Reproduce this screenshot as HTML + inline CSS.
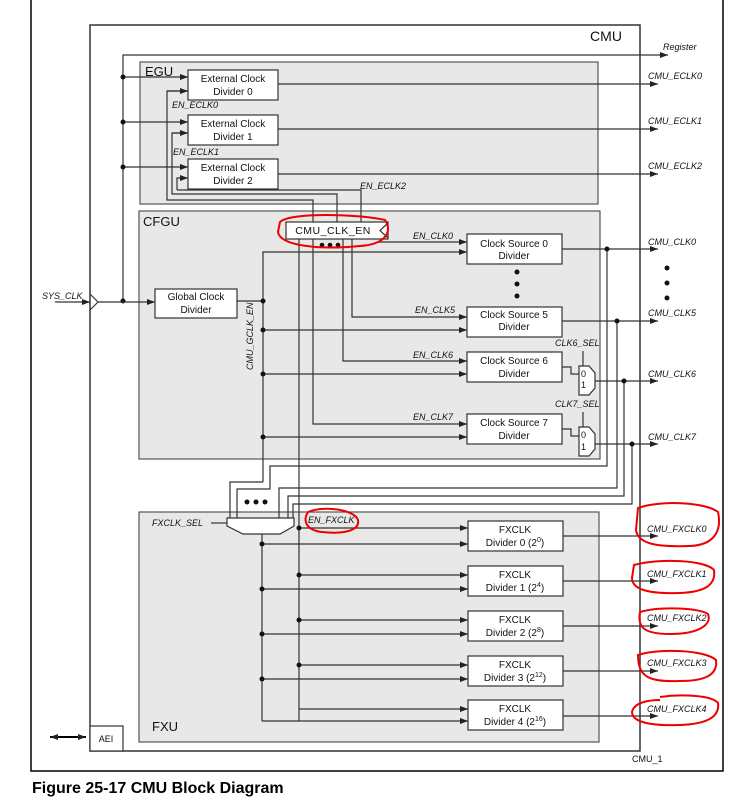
<!DOCTYPE html>
<html><head><meta charset="utf-8"><style>
html,body{margin:0;padding:0;background:#fff;}
svg{display:block;font-family:"Liberation Sans",sans-serif;}
.b{fill:#fff;stroke:#333;stroke-width:1.2}
.g{fill:#e8e8e8;stroke:#555;stroke-width:1.2}
.l{fill:none;stroke:#333;stroke-width:1.2}
.t{font-size:10px;fill:#111;text-anchor:middle}
.i{font-size:9px;font-style:italic;fill:#111}
.r{fill:none;stroke:#e00;stroke-width:2}
</style></head><body>
<svg width="735" height="809" viewBox="0 0 735 809">
<defs><marker id="a" markerWidth="8" markerHeight="6" refX="8" refY="3" orient="auto" markerUnits="userSpaceOnUse"><path d="M0,0 L8,3 L0,6 z" fill="#222"/></marker>
<marker id="a2" markerWidth="8" markerHeight="6" refX="0" refY="3" orient="auto" markerUnits="userSpaceOnUse"><path d="M8,0 L0,3 L8,6 z" fill="#222"/></marker></defs>
<rect x="31" y="-2" width="692" height="773" fill="none" stroke="#000" stroke-width="1.5"/>
<rect x="90" y="25" width="550" height="726" fill="#fff" stroke="#333" stroke-width="1.5"/>
<text x="606" y="41" font-size="14" fill="#111" text-anchor="middle">CMU</text>
<!-- register line -->
<polyline class="l" points="123,301 123,55 668,55" marker-end="url(#a)"/>
<text x="663" y="50" class="i" font-size="8">Register</text>
<rect class="g" x="140" y="62" width="458" height="142"/>
<text x="145" y="76" font-size="13" fill="#111">EGU</text>
<rect class="g" x="139" y="211" width="461" height="248"/>
<text x="143" y="226" font-size="13" fill="#111">CFGU</text>
<rect class="g" x="139" y="512" width="460" height="230"/>
<text x="152" y="731" font-size="13" fill="#111">FXU</text>
<!-- EGU -->
<g class="l">
<line x1="123" y1="77" x2="188" y2="77" marker-end="url(#a)"/>
<line x1="123" y1="122" x2="188" y2="122" marker-end="url(#a)"/>
<line x1="123" y1="167" x2="188" y2="167" marker-end="url(#a)"/>
<polyline points="188,91 167,91 167,200 313,200 313,223" marker-start="url(#a2)" style="marker-start:none"/>
<polyline points="167,91 188,91" marker-end="url(#a)"/>
<polyline points="188,133 172,133 172,194 337,194 337,223"/>
<line x1="172" y1="133" x2="188" y2="133" marker-end="url(#a)"/>
<polyline points="177,190 177,178 188,178" marker-end="url(#a)"/>
<polyline points="177,190 361,190 361,223"/>
<line x1="278" y1="84" x2="658" y2="84" marker-end="url(#a)"/>
<line x1="278" y1="129" x2="658" y2="129" marker-end="url(#a)"/>
<line x1="278" y1="174" x2="658" y2="174" marker-end="url(#a)"/>
</g>
<g fill="#111"><circle cx="123" cy="77" r="2.5"/><circle cx="123" cy="122" r="2.5"/><circle cx="123" cy="167" r="2.5"/><circle cx="123" cy="301" r="2.5"/></g>
<rect class="b" x="188" y="70" width="90" height="30"/><text class="t" x="233" y="82">External Clock</text><text class="t" x="233" y="95">Divider 0</text>
<rect class="b" x="188" y="115" width="90" height="30"/><text class="t" x="233" y="127">External Clock</text><text class="t" x="233" y="140">Divider 1</text>
<rect class="b" x="188" y="159" width="90" height="30"/><text class="t" x="233" y="171">External Clock</text><text class="t" x="233" y="184">Divider 2</text>
<text class="i" x="172" y="108">EN_ECLK0</text>
<text class="i" x="173" y="155">EN_ECLK1</text>
<text class="i" x="360" y="189">EN_ECLK2</text>
<text class="i" x="648" y="79">CMU_ECLK0</text>
<text class="i" x="648" y="124">CMU_ECLK1</text>
<text class="i" x="648" y="169">CMU_ECLK2</text>
<!-- SYS_CLK -->
<line class="l" x1="55" y1="302" x2="90" y2="302" marker-end="url(#a)"/>
<polyline class="l" points="90,294 98,302 90,310"/>
<line class="l" x1="98" y1="302" x2="155" y2="302" marker-end="url(#a)"/>
<text class="i" x="42" y="299">SYS_CLK</text>
<!-- CFGU -->
<rect class="b" x="155" y="289" width="82" height="29"/><text class="t" x="196" y="300">Global Clock</text><text class="t" x="196" y="313">Divider</text>
<g class="l">
<line x1="237" y1="301" x2="263" y2="301"/>
<polyline points="263,482 263,252 467,252" marker-end="url(#a)"/>
<line x1="263" y1="330" x2="467" y2="330" marker-end="url(#a)"/>
<line x1="263" y1="374" x2="467" y2="374" marker-end="url(#a)"/>
<line x1="263" y1="437" x2="467" y2="437" marker-end="url(#a)"/>
<line x1="377" y1="242" x2="467" y2="242" marker-end="url(#a)"/>
<polyline points="352,239 352,317 467,317" marker-end="url(#a)"/>
<polyline points="343,239 343,361 467,361" marker-end="url(#a)"/>
<polyline points="313,239 313,424 467,424" marker-end="url(#a)"/>
<line x1="299" y1="239" x2="299" y2="721"/>
<polyline points="263,482 230,482 230,518"/>
<polyline points="562,249 658,249" marker-end="url(#a)"/>
<polyline points="562,321 658,321" marker-end="url(#a)"/>
<polyline points="595,381 658,381" marker-end="url(#a)"/>
<polyline points="595,444 658,444" marker-end="url(#a)"/>
<polyline points="562,367 571,367 571,374 579,374"/>
<polyline points="562,429 571,429 571,436 579,436"/>
<line x1="583" y1="351" x2="583" y2="366"/>
<line x1="583" y1="412" x2="583" y2="428"/>
<polyline points="607,249 607,466 270,466 270,489 237,489 237,518"/>
<polyline points="617,321 617,488 279,488 279,518"/>
<polyline points="624,381 624,496 288,496 288,518"/>
<polyline points="632,444 632,504 293,504 293,518"/>
</g>
<g fill="#111"><circle cx="263" cy="301" r="2.5"/><circle cx="263" cy="330" r="2.5"/><circle cx="263" cy="374" r="2.5"/><circle cx="263" cy="437" r="2.5"/>
<circle cx="607" cy="249" r="2.5"/><circle cx="617" cy="321" r="2.5"/><circle cx="624" cy="381" r="2.5"/><circle cx="632" cy="444" r="2.5"/>
<circle cx="322" cy="245" r="2.3"/><circle cx="330" cy="245" r="2.3"/><circle cx="338" cy="245" r="2.3"/>
<circle cx="517" cy="272" r="2.5"/><circle cx="517" cy="284" r="2.5"/><circle cx="517" cy="296" r="2.5"/>
<circle cx="667" cy="268" r="2.5"/><circle cx="667" cy="283" r="2.5"/><circle cx="667" cy="298" r="2.5"/>
<circle cx="247" cy="502" r="2.5"/><circle cx="256" cy="502" r="2.5"/><circle cx="265" cy="502" r="2.5"/></g>
<rect class="b" x="286" y="222" width="102" height="17"/>
<polyline class="l" points="388,223 380,230.5 388,238"/>
<text x="333" y="234" font-size="10.5" fill="#111" text-anchor="middle" letter-spacing="0.5">CMU_CLK_EN</text>
<text class="i" x="413" y="239">EN_CLK0</text>
<text class="i" x="415" y="313">EN_CLK5</text>
<text class="i" x="413" y="358">EN_CLK6</text>
<text class="i" x="413" y="420">EN_CLK7</text>
<text class="i" x="555" y="346">CLK6_SEL</text>
<text class="i" x="555" y="407">CLK7_SEL</text>
<text class="i" transform="translate(253,370) rotate(-90)" font-size="8">CMU_GCLK_EN</text>
<rect class="b" x="467" y="234" width="95" height="30"/><text class="t" x="514" y="247">Clock Source 0</text><text class="t" x="514" y="259">Divider</text>
<rect class="b" x="467" y="307" width="95" height="30"/><text class="t" x="514" y="318">Clock Source 5</text><text class="t" x="514" y="330">Divider</text>
<rect class="b" x="467" y="352" width="95" height="30"/><text class="t" x="514" y="364">Clock Source 6</text><text class="t" x="514" y="377">Divider</text>
<rect class="b" x="467" y="414" width="95" height="30"/><text class="t" x="514" y="426">Clock Source 7</text><text class="t" x="514" y="439">Divider</text>
<path class="b" d="M579,366 L589,366 L595,373 L595,388 L589,395 L579,395 z"/><text x="581" y="377" font-size="9" fill="#111">0</text><text x="581" y="388" font-size="9" fill="#111">1</text>
<path class="b" d="M579,427 L589,427 L595,434 L595,449 L589,456 L579,456 z"/><text x="581" y="438" font-size="9" fill="#111">0</text><text x="581" y="450" font-size="9" fill="#111">1</text>
<text class="i" x="648" y="245">CMU_CLK0</text>
<text class="i" x="648" y="316">CMU_CLK5</text>
<text class="i" x="648" y="377">CMU_CLK6</text>
<text class="i" x="648" y="440">CMU_CLK7</text>
<!-- FXU -->
<path class="b" d="M227,518 L294,518 L294,526 L280,534 L243,534 L227,526 z"/>
<line class="l" x1="211" y1="523" x2="227" y2="523"/>
<text class="i" x="152" y="526">FXCLK_SEL</text>
<line class="l" x1="262" y1="534" x2="262" y2="721"/>
<g class="l">
<line x1="299" y1="528" x2="468" y2="528" marker-end="url(#a)"/><line x1="262" y1="544" x2="468" y2="544" marker-end="url(#a)"/>
<line x1="299" y1="575" x2="468" y2="575" marker-end="url(#a)"/><line x1="262" y1="589" x2="468" y2="589" marker-end="url(#a)"/>
<line x1="299" y1="620" x2="468" y2="620" marker-end="url(#a)"/><line x1="262" y1="634" x2="468" y2="634" marker-end="url(#a)"/>
<line x1="299" y1="665" x2="468" y2="665" marker-end="url(#a)"/><line x1="262" y1="679" x2="468" y2="679" marker-end="url(#a)"/>
<line x1="299" y1="709" x2="468" y2="709" marker-end="url(#a)"/><line x1="262" y1="721" x2="468" y2="721" marker-end="url(#a)"/>
<line x1="563" y1="536" x2="658" y2="536" marker-end="url(#a)"/>
<line x1="563" y1="581" x2="658" y2="581" marker-end="url(#a)"/>
<line x1="563" y1="626" x2="658" y2="626" marker-end="url(#a)"/>
<line x1="563" y1="671" x2="658" y2="671" marker-end="url(#a)"/>
<line x1="563" y1="716" x2="658" y2="716" marker-end="url(#a)"/>
</g>
<g fill="#111"><circle cx="299" cy="528" r="2.5"/><circle cx="299" cy="575" r="2.5"/><circle cx="299" cy="620" r="2.5"/><circle cx="299" cy="665" r="2.5"/>
<circle cx="262" cy="544" r="2.5"/><circle cx="262" cy="589" r="2.5"/><circle cx="262" cy="634" r="2.5"/><circle cx="262" cy="679" r="2.5"/></g>
<text class="i" x="308" y="523">EN_FXCLK</text>
<rect class="b" x="468" y="521" width="95" height="30"/><text class="t" x="515" y="533">FXCLK</text><text class="t" x="515" y="546">Divider 0 (2<tspan font-size="7" dy="-4">0</tspan><tspan dy="4">)</tspan></text>
<rect class="b" x="468" y="566" width="95" height="30"/><text class="t" x="515" y="578">FXCLK</text><text class="t" x="515" y="591">Divider 1 (2<tspan font-size="7" dy="-4">4</tspan><tspan dy="4">)</tspan></text>
<rect class="b" x="468" y="611" width="95" height="30"/><text class="t" x="515" y="623">FXCLK</text><text class="t" x="515" y="636">Divider 2 (2<tspan font-size="7" dy="-4">8</tspan><tspan dy="4">)</tspan></text>
<rect class="b" x="468" y="656" width="95" height="30"/><text class="t" x="515" y="668">FXCLK</text><text class="t" x="515" y="681">Divider 3 (2<tspan font-size="7" dy="-4">12</tspan><tspan dy="4">)</tspan></text>
<rect class="b" x="468" y="700" width="95" height="30"/><text class="t" x="515" y="712">FXCLK</text><text class="t" x="515" y="725">Divider 4 (2<tspan font-size="7" dy="-4">16</tspan><tspan dy="4">)</tspan></text>
<text class="i" x="647" y="532">CMU_FXCLK0</text>
<text class="i" x="647" y="577">CMU_FXCLK1</text>
<text class="i" x="647" y="621">CMU_FXCLK2</text>
<text class="i" x="647" y="666">CMU_FXCLK3</text>
<text class="i" x="647" y="712">CMU_FXCLK4</text>
<!-- AEI -->
<rect class="b" x="90" y="726" width="33" height="25"/><text x="106" y="742" font-size="9" fill="#111" text-anchor="middle">AEI</text>
<line x1="50" y1="737" x2="86" y2="737" stroke="#000" stroke-width="2" marker-end="url(#a)" marker-start="url(#a2)"/>
<text x="632" y="762" font-size="9" fill="#111">CMU_1</text>
<text x="32" y="793" font-size="16" font-weight="bold" fill="#000">Figure 25-17  CMU Block Diagram</text>
<!-- red annotations -->
<path class="r" d="M280,222 C290,212 360,214 385,220 C392,230 388,244 360,246 C320,250 280,246 278,232 Z"/>
<path class="r" d="M308,512 C325,505 355,510 358,520 C360,532 340,534 322,532 C305,530 303,520 308,512 Z"/>
<path class="r" d="M638,508 C660,500 705,502 718,512 C722,530 715,545 690,546 C660,547 638,545 636,530 Z"/>
<path class="r" d="M634,565 C660,558 705,560 714,570 C716,585 705,592 680,593 C650,594 632,590 632,578 Z"/>
<path class="r" d="M640,612 C660,606 700,608 708,614 C712,624 700,634 670,634 C645,634 637,628 640,612 Z"/>
<path class="r" d="M638,655 C660,648 705,650 716,660 C718,675 705,681 680,681 C650,682 638,678 638,655 Z"/>
<path class="r" d="M660,697 C680,694 712,695 718,703 C720,718 705,724 680,725 C650,726 632,722 632,712 C634,702 650,700 660,700"/>
</svg>
</body></html>
